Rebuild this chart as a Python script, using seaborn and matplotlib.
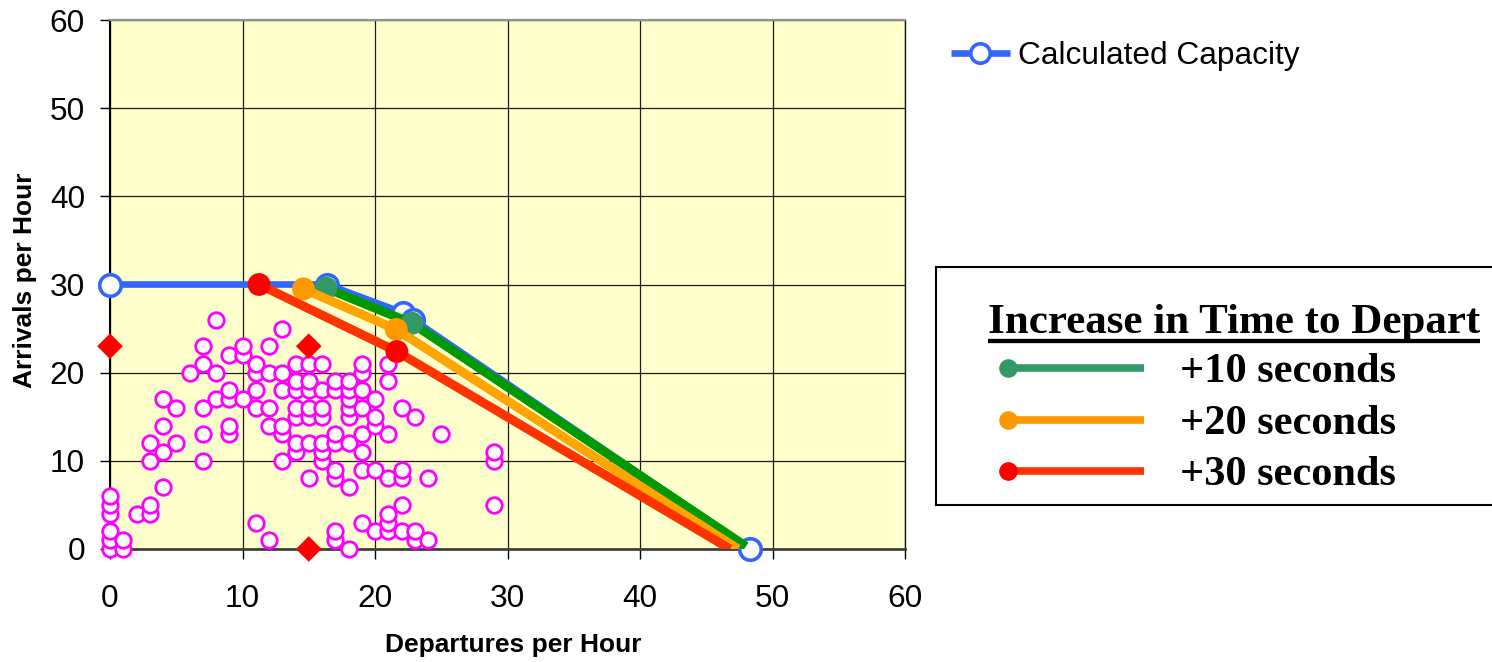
import matplotlib
matplotlib.use("Agg")
import matplotlib.pyplot as plt
import seaborn as sns
import pandas as pd
from matplotlib.lines import Line2D

# ---------------- data ----------------
obs_departures = [0, 0, 0, 0, 0, 0, 1, 1, 2, 3, 3, 3, 3, 4, 4, 4, 4, 5, 5, 6,
                  7, 7, 7, 7, 7, 8, 8, 8, 9, 9, 9, 9, 9, 10, 10, 10,
                  11, 11, 11, 11, 11, 12, 12, 12, 12, 12,
                  13, 13, 13, 13, 13, 13,
                  14, 14, 14, 14, 14, 14, 14,
                  15, 15, 15, 15, 15, 15, 15,
                  16, 16, 16, 16, 16, 16, 16,
                  17, 17, 17, 17, 17, 17, 17, 17,
                  18, 18, 18, 18, 18, 18, 18, 18,
                  19, 19, 19, 19, 19, 19, 19, 19,
                  20, 20, 20, 20, 20,
                  21, 21, 21, 21, 21, 21, 21,
                  22, 22, 22, 22, 22, 22,
                  23, 23, 23, 24, 24, 25, 29, 29, 29]
obs_arrivals = [0, 1, 2, 4, 5, 6, 0, 1, 4, 4, 5, 10, 12, 7, 11, 14, 17, 12, 16, 20,
                10, 13, 16, 21, 23, 17, 20, 26, 13, 14, 17, 18, 22, 17, 22, 23,
                3, 16, 18, 20, 21, 1, 14, 16, 20, 23,
                10, 13, 14, 18, 20, 25,
                11, 12, 15, 16, 18, 19, 21,
                8, 12, 15, 16, 18, 19, 21,
                10, 11, 12, 15, 16, 18, 21,
                1, 2, 8, 9, 12, 13, 18, 19,
                0, 7, 12, 15, 16, 17, 18, 19,
                3, 9, 11, 13, 16, 18, 20, 21,
                2, 9, 14, 15, 17,
                2, 3, 4, 8, 13, 19, 21,
                2, 5, 8, 9, 16, 25,
                1, 2, 15, 1, 8, 13, 5, 10, 11]

diamond_departures = [0, 15, 15]
diamond_arrivals = [23, 23, 0]

capacity_departures = [0, 16.4, 22.1, 22.9, 48.3]
capacity_arrivals = [30, 30, 26.8, 26.0, 0]

plus10_departures = [16.3, 22.8, 48.0]
plus10_arrivals = [29.6, 25.6, 0.3]
plus20_departures = [14.6, 21.6, 47.4]
plus20_arrivals = [29.5, 24.9, 0.0]
plus30_departures = [11.25, 21.65, 46.8]
plus30_arrivals = [30.0, 22.4, 0.0]

series_labels = ["+10 seconds", "+20 seconds", "+30 seconds"]
capacity_label = "Calculated Capacity"
box_title = "Increase in Time to Depart"
tick_values = [0, 10, 20, 30, 40, 50, 60]
tick_labels = ["0", "10", "20", "30", "40", "50", "60"]
x_label = "Departures per Hour"
y_label = "Arrivals per Hour"

# ---------------- style ----------------
sns.set_theme(style="ticks")
plt.rcParams['font.family'] = ['Liberation Sans', 'DejaVu Sans']
plt.rcParams['text.color'] = 'black'

W, H = 1492, 662
fig = plt.figure(figsize=(W / 100, H / 100), dpi=100)
fig.patch.set_facecolor('white')
ax = fig.add_axes([110 / W, 1 - 549 / H, 795 / W, 529 / H])
ax.set_facecolor('#FFFFCC')

obs = pd.DataFrame({"dep": obs_departures, "arr": obs_arrivals})
dia = pd.DataFrame({"dep": diamond_departures, "arr": diamond_arrivals})
cap = pd.DataFrame({"dep": capacity_departures, "arr": capacity_arrivals})

sns.scatterplot(data=obs, x="dep", y="arr", ax=ax, marker='o', s=125,
                color='white', edgecolor='#FF00FF', linewidth=2.0,
                zorder=3, clip_on=False, legend=False)
sns.scatterplot(data=dia, x="dep", y="arr", ax=ax, marker='D', s=170,
                color='#FF0000', edgecolor='none', linewidth=0,
                zorder=3, clip_on=False, legend=False)

# capacity line
sns.lineplot(data=cap, x="dep", y="arr", ax=ax, sort=False, estimator=None,
             color='#3366FF', linewidth=4.8, zorder=4, solid_capstyle='butt',
             legend=False)
sns.scatterplot(data=cap, x="dep", y="arr", ax=ax, marker='o', s=240,
                color='white', edgecolor='#3366FF', linewidth=2.6,
                zorder=5, clip_on=False, legend=False)

series = [
    (plus10_departures, plus10_arrivals, '#009900', '#339966'),
    (plus20_departures, plus20_arrivals, '#FFA500', '#FF9900'),
    (plus30_departures, plus30_arrivals, '#FF3300', '#FF0000'),
]
z = 6
for deps, arrs, lcol, mcol in series:
    d = pd.DataFrame({"dep": deps, "arr": arrs})
    sns.lineplot(data=d, x="dep", y="arr", ax=ax, sort=False, estimator=None,
                 color=lcol, linewidth=6.5, zorder=z, solid_capstyle='butt',
                 legend=False)
    sns.scatterplot(data=d.iloc[:2], x="dep", y="arr", ax=ax, marker='o', s=270,
                    color=mcol, edgecolor='none', linewidth=0,
                    zorder=z + 1, legend=False)
    z += 2

ax.set_xlim(0, 60)
ax.set_ylim(0, 60)
ax.set_xticks(tick_values)
ax.set_xticklabels(tick_labels)
ax.set_yticks(tick_values)
ax.set_yticklabels(tick_labels)
ax.grid(True, color='#1a1a1a', linewidth=0.9)
ax.set_axisbelow(True)
ax.tick_params(axis='both', which='major', length=7, width=1.0, color='black',
               labelsize=22.8, labelcolor='black', direction='out')
ax.tick_params(axis='x', pad=18, bottom=True)
ax.tick_params(axis='y', pad=11, left=True)

ax.spines['left'].set_color('black')
ax.spines['left'].set_linewidth(1.5)
ax.spines['bottom'].set_color('#404040')
ax.spines['bottom'].set_linewidth(2.0)
ax.spines['top'].set_color('#909090')
ax.spines['top'].set_linewidth(1.6)
ax.spines['right'].set_color('#1a1a1a')
ax.spines['right'].set_linewidth(1.0)
for sp in ax.spines.values():
    sp.set_zorder(2.5)

ax.set_xlabel(x_label, fontsize=19, fontweight='bold', color='black')
ax.set_ylabel(y_label, fontsize=19, fontweight='bold', color='black')
ax.xaxis.set_label_coords(0.5 + 6 / 795, (549 - 633) / 529)
ax.yaxis.set_label_coords((37 - 110) / 795, 0.5 + 4 / 529)

# legend for calculated capacity
cap_handle = Line2D([], [], color='#3366FF', linewidth=4.8, marker='o',
                    markersize=14, markerfacecolor='white',
                    markeredgecolor='#3366FF', markeredgewidth=2.6,
                    solid_capstyle='butt')
leg = fig.legend(handles=[cap_handle], labels=[capacity_label], loc='center left',
                 bbox_to_anchor=(951 / W, 1 - 56 / H), frameon=False, fontsize=22.8,
                 handlelength=1.85, handletextpad=0.26, borderpad=0, borderaxespad=0)
for txt in leg.get_texts():
    txt.set_color('black')

# boxed key for increase in time to depart
axb = fig.add_axes([936 / W, 1 - 505 / H, (1502 - 936) / W, (505 - 267) / H])
axb.set_xlim(936, 1502)
axb.set_ylim(505, 267)
axb.set_xticks([])
axb.set_yticks([])
axb.set_facecolor('white')
for sp in axb.spines.values():
    sp.set_color('black')
    sp.set_linewidth(1.5)

serif = ['Liberation Serif', 'DejaVu Serif']
t = axb.text(988, 333, box_title, fontsize=31, fontweight='bold',
             family=serif, ha='left', va='baseline', color='black')
fig.canvas.draw()
bb = t.get_window_extent(fig.canvas.get_renderer())
inv = axb.transData.inverted()
x0 = inv.transform((bb.x0, bb.y0))[0]
x1 = inv.transform((bb.x1, bb.y0))[0]
axb.plot([x0, x1], [340.5, 340.5], color='black', linewidth=3.1,
         solid_capstyle='butt')

key_rows = [368, 420, 471]
key_line_colors = ['#339966', '#FF9900', '#FF3300']
key_marker_colors = ['#339966', '#FF9900', '#FF0000']
for yk, lab, lc, mc in zip(key_rows, series_labels, key_line_colors, key_marker_colors):
    axb.plot([1008, 1144], [yk, yk], color=lc, linewidth=5.5, solid_capstyle='butt')
    axb.plot([1008], [yk], marker='o', markersize=13.4, color=mc,
             markeredgecolor='none', linestyle='none')
    axb.text(1180, yk + 14, lab, fontsize=30.5, fontweight='bold', family=serif,
             ha='left', va='baseline', color='black')

fig.savefig("out.png", dpi=100, facecolor='white')
